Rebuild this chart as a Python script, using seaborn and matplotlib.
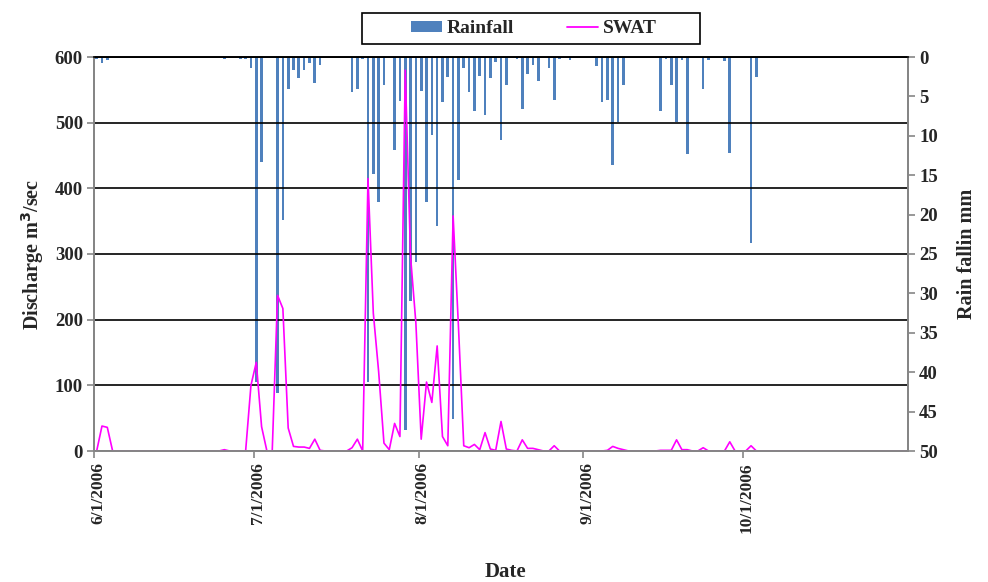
import matplotlib
matplotlib.use("Agg")
import numpy as np
import pandas as pd
import seaborn as sns
import matplotlib.pyplot as plt
from matplotlib.patches import Patch, Rectangle
from matplotlib.lines import Line2D

# ---------------- data (daily, 6/1/2006 .. 10/31/2006) ----------------
dates = pd.date_range("2006-06-01", "2006-10-31", freq="D")

rainfall_mm = [
    0.2, 0.8, 0.4, 0, 0, 0, 0, 0, 0, 0,             # 6/1 - 6/10
    0, 0, 0, 0, 0, 0, 0, 0, 0, 0,                   # 6/11 - 6/20
    0, 0, 0, 0, 0.3, 0, 0, 0.2, 0.2, 1.4,           # 6/21 - 6/30
    41.2, 13.3, 0, 0, 42.7, 20.7, 4.0, 1.6, 2.7, 1.7,   # 7/1 - 7/10
    0.7, 3.3, 1.0, 0, 0, 0, 0, 0, 4.4, 4.0,         # 7/11 - 7/20
    0.3, 41.2, 14.8, 18.4, 3.6, 0, 11.8, 5.6, 47.3, 31.0,  # 7/21 - 7/30
    26.0,                                           # 7/31
    4.3, 18.4, 9.9, 21.5, 5.7, 2.5, 45.9, 15.6, 1.4, 4.4,  # 8/1 - 8/10
    6.8, 2.4, 7.4, 2.7, 0.6, 10.5, 3.5, 0, 0.2, 6.6,     # 8/11 - 8/20
    2.2, 1.0, 3.0, 0, 1.4, 5.4, 0.2, 0, 0.4, 0,     # 8/21 - 8/30
    0,                                              # 8/31
    0, 0, 1.1, 5.7, 5.4, 13.7, 8.3, 3.5, 0, 0,      # 9/1 - 9/10
    0, 0, 0, 0, 6.8, 0.2, 3.6, 8.3, 0.4, 12.3,      # 9/11 - 9/20
    0, 0, 4.1, 0.4, 0, 0, 0.5, 12.2, 0, 0,          # 9/21 - 9/30
    0, 23.6, 2.6, 0, 0, 0, 0, 0, 0, 0,              # 10/1 - 10/10
    0, 0, 0, 0, 0, 0, 0, 0, 0, 0,                   # 10/11 - 10/20
    0, 0, 0, 0, 0, 0, 0, 0, 0, 0, 0,                # 10/21 - 10/31
]

swat_discharge = [
    0, 38, 36, 0, 0, 0, 0, 0, 0, 0,                 # 6/1 - 6/10
    0, 0, 0, 0, 0, 0, 0, 0, 0, 0,                   # 6/11 - 6/20
    0, 0, 0, 0, 2, 0, 0, 0, 0, 100,                 # 6/21 - 6/30
    135, 37, 0, 0, 237, 217, 35, 7, 6, 6,           # 7/1 - 7/10
    4, 18, 1, 0, 0, 0, 0, 0, 5, 18,                 # 7/11 - 7/20
    0, 415, 210, 121, 12, 2, 42, 22, 580, 296,      # 7/21 - 7/30
    195,                                            # 7/31
    18, 105, 74, 160, 22, 8, 358, 190, 8, 5,        # 8/1 - 8/10
    10, 2, 28, 3, 1, 45, 3, 1, 0, 17,               # 8/11 - 8/20
    4, 4, 2, 0, 0, 8, 0, 0, 0, 0,                   # 8/21 - 8/30
    0,                                              # 8/31
    0, 0, 0, 0, 1, 7, 4, 2, 0, 0,                   # 9/1 - 9/10
    0, 0, 0, 0, 1, 1, 1, 17, 2, 2,                  # 9/11 - 9/20
    0, 0, 5, 0, 0, 0, 0, 14, 0, 0,                  # 9/21 - 9/30
    0, 8, 0, 0, 0, 0, 0, 0, 0, 0,                   # 10/1 - 10/10
    0, 0, 0, 0, 0, 0, 0, 0, 0, 0,                   # 10/11 - 10/20
    0, 0, 0, 0, 0, 0, 0, 0, 0, 0, 0,                # 10/21 - 10/31
]

tick_dates = ["2006-06-01", "2006-07-01", "2006-08-01", "2006-09-01", "2006-10-01"]
tick_labels = ["6/1/2006", "7/1/2006", "8/1/2006", "9/1/2006", "10/1/2006"]

# ---------------- build frame ----------------
start = dates[0]
df = pd.DataFrame({
    "date": dates,
    "day": (dates - start).days + 0.5,   # centre of each daily slot
    "Rainfall": rainfall_mm,
    "SWAT": swat_discharge,
})
tick_pos = [(pd.Timestamp(t) - start).days for t in tick_dates]

# ---------------- style ----------------
sns.set_theme(style="white")
plt.rcParams["font.family"] = ["Liberation Serif", "DejaVu Serif"]
plt.rcParams["font.weight"] = "bold"

BLUE = "#4F81BD"
MAGENTA = "#FF00FF"
AXGRAY = "#868686"

fig = plt.figure(figsize=(9.88, 5.82), dpi=100)
ax = fig.add_axes([94 / 988, 1 - 451 / 582, (908 - 94) / 988, (451 - 57) / 582])
ax2 = ax.twinx()

# rainfall bars on secondary (inverted) axis
sns.barplot(data=df, x="day", y="Rainfall", native_scale=True, ax=ax2,
            color=BLUE, saturation=1, width=0.5, errorbar=None, linewidth=0)
ax2.set_ylim(50, 0)
ax2.set_yticks(range(0, 51, 5))

# SWAT discharge line on primary axis
sns.lineplot(data=df, x="day", y="SWAT", ax=ax, color=MAGENTA, linewidth=1.2)
ax.set_ylim(0, 600)
ax.set_yticks(range(0, 601, 100))
ax.set_xlim(0, len(dates))
ax2.set_xlim(0, len(dates))

ax.set_zorder(ax2.get_zorder() + 1)
ax.patch.set_visible(False)

ax.yaxis.grid(True, color="black", linewidth=1.2)
ax.xaxis.grid(False)
ax2.grid(False)

# major ticks = month boundaries (marks only); minor ticks carry the labels,
# nudged slightly to the right like the original
ax.set_xticks(tick_pos, labels=[""] * len(tick_pos))
ax.set_xticks([p + 0.75 for p in tick_pos], labels=tick_labels, minor=True)
for lab in ax.get_xticklabels(minor=True):
    lab.set_rotation(90)
    lab.set_fontsize(12.5)
    lab.set_fontweight("bold")

for a in (ax, ax2):
    for s in a.spines.values():
        s.set_color(AXGRAY)
        s.set_linewidth(1.4)
    a.spines["top"].set_color("black")
    a.spines["top"].set_linewidth(1.2)

ax.tick_params(axis="y", direction="out", length=5, color=AXGRAY, width=1.2,
               labelsize=13.5, left=True, pad=3)
ax.tick_params(axis="x", which="major", direction="out", length=5, color=AXGRAY,
               width=1.2, bottom=True, pad=3)
ax.tick_params(axis="x", which="minor", length=0, bottom=True, pad=8)
ax2.tick_params(axis="y", direction="out", length=5, color=AXGRAY, width=1.2,
                labelsize=13.5, right=True, pad=3)
for lab in ax.get_yticklabels() + ax2.get_yticklabels():
    lab.set_fontweight("bold")

ax.set_xlabel("")
ax.set_ylabel("Discharge m$^\\mathbf{3}$/sec", fontsize=14.5, fontweight="bold", labelpad=6)
ax2.set_ylabel("Rain fallin mm", fontsize=14.5, fontweight="bold", labelpad=14, rotation=90)
fig.text(505 / 988, 1 - 572 / 582, "Date", ha="center", va="center",
         fontsize=15, fontweight="bold")

# legend with a manually placed frame
fig.add_artist(Rectangle((362 / 988, 1 - 44 / 582), (700 - 362) / 988, 31 / 582,
                         transform=fig.transFigure, facecolor="white",
                         edgecolor="black", linewidth=1.2, zorder=5))
handles = [Patch(facecolor=BLUE, edgecolor="none", label="Rainfall"),
           Line2D([], [], color=MAGENTA, linewidth=1.3, label="SWAT")]
leg = fig.legend(handles=handles, loc="center", bbox_to_anchor=(534 / 988, 1 - 28.5 / 582),
                 ncol=2, frameon=False, handlelength=1.6, handleheight=0.5,
                 handletextpad=0.25, columnspacing=2.7, borderpad=0.2,
                 prop={"weight": "bold", "size": 14, "family": "Liberation Serif"})
leg.set_zorder(6)

fig.savefig("out.png", dpi=100)
